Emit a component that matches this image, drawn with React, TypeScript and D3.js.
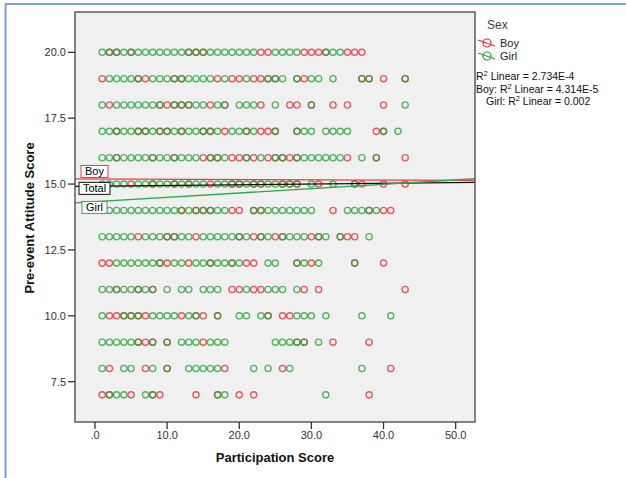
import React from 'react';
import * as d3 from 'd3';

// Pre-event attitude levels (y) and, per level, participation scores (x) of boys / girls
const attitudeLevels: number[] = [20, 19, 18, 17, 16, 15, 14, 13, 12, 11, 10, 9, 8, 7];

const boyScoresByLevel: number[][] = [
  [2, 3, 5, 13, 14, 15, 23, 24, 29, 30, 31, 32, 35, 36, 37],
  [1, 6, 7, 11, 12, 17, 19, 20, 22, 23, 24, 25, 28, 29, 37, 38, 40, 43],
  [2, 9, 10, 11, 12, 13, 16, 18, 23, 27, 28, 30, 33, 35, 40],
  [3, 6, 7, 9, 10, 12, 15, 16, 18, 21, 23, 24, 25, 28, 39, 40],
  [3, 8, 11, 15, 16, 17, 19, 20, 21, 22, 24, 25, 26, 27, 28, 35, 39, 43],
  [5, 8, 11, 13, 16, 19, 20, 22, 23, 26, 27, 28, 31, 36, 37, 40, 43],
  [12, 14, 15, 16, 19, 20, 22, 23, 33, 38, 40, 41],
  [6, 10, 11, 14, 20, 22, 23, 25, 26, 30, 31, 34, 35, 36],
  [1, 2, 9, 10, 13, 16, 19, 21, 22, 28, 30, 36, 40],
  [3, 6, 8, 19, 20, 22, 23, 29, 31, 43],
  [2, 3, 4, 5, 6, 7, 12, 14, 15, 17, 24, 26, 27],
  [6, 7, 8, 10, 15, 28, 29, 33, 38],
  [2, 7, 10, 18, 26, 41],
  [1, 2, 5, 8, 9, 14, 17, 20, 22, 38],
];

const girlScoresByLevel: number[][] = [
  [1, 2, 3, 4, 5, 6, 7, 8, 9, 10, 11, 12, 13, 14, 15, 16, 17, 18, 19, 20, 21, 22, 25, 26, 27, 28, 32, 33, 34],
  [2, 3, 4, 5, 6, 8, 9, 10, 11, 12, 13, 14, 15, 16, 18, 21, 24, 25, 26, 28, 30, 31, 33, 37, 38, 43],
  [1, 3, 4, 5, 6, 7, 8, 9, 11, 12, 13, 14, 15, 17, 18, 20, 21, 22, 25, 30, 43],
  [1, 2, 3, 4, 5, 6, 7, 8, 9, 10, 11, 12, 13, 14, 15, 16, 17, 19, 20, 21, 22, 25, 28, 29, 30, 32, 33, 34, 35, 40, 42],
  [1, 2, 3, 4, 5, 6, 7, 8, 9, 10, 11, 12, 13, 14, 16, 17, 18, 21, 23, 25, 26, 28, 29, 30, 31, 32, 33, 34, 37, 39],
  [1, 2, 3, 4, 6, 7, 8, 9, 10, 11, 12, 13, 14, 15, 17, 18, 19, 20, 21, 22, 23, 24, 25, 26, 27, 28, 30, 33, 36],
  [1, 2, 3, 4, 5, 6, 7, 8, 9, 10, 11, 12, 13, 14, 15, 16, 17, 18, 22, 23, 24, 25, 26, 27, 28, 29, 30, 35, 36, 37, 38, 39],
  [1, 2, 3, 4, 5, 7, 8, 9, 10, 11, 12, 13, 15, 16, 17, 18, 19, 20, 21, 23, 24, 26, 27, 28, 29, 31, 32, 34, 38],
  [3, 4, 5, 6, 7, 8, 9, 11, 12, 14, 15, 16, 17, 18, 19, 20, 24, 25, 28, 29, 31, 36],
  [1, 2, 3, 4, 5, 6, 7, 8, 10, 12, 13, 15, 16, 17, 21, 24, 25, 26, 28],
  [1, 4, 5, 6, 8, 9, 10, 11, 13, 14, 17, 20, 21, 23, 24, 28, 29, 30, 32, 37, 41],
  [1, 2, 3, 4, 5, 6, 8, 10, 12, 13, 14, 16, 17, 18, 25, 26, 27, 28, 29, 31],
  [1, 4, 5, 8, 10, 13, 14, 15, 16, 17, 22, 24, 27, 37],
  [2, 3, 4, 7, 8, 17, 18, 32],
];

// Linear fit lines (intercept at x = 0, slope)
const fitNames: string[] = ['Boy', 'Total', 'Girl'];
const fitIntercepts: number[] = [15.192, 14.92, 14.33];
const fitSlopes: number[] = [-0.00103, 0.0027, 0.01655];

const xTickValues: number[] = [0, 10, 20, 30, 40, 50];
const xTickLabels: string[] = ['.0', '10.0', '20.0', '30.0', '40.0', '50.0'];
const yTickValues: number[] = [7.5, 10, 12.5, 15, 17.5, 20];
const yTickLabels: string[] = ['7.5', '10.0', '12.5', '15.0', '17.5', '20.0'];

const legendNames: string[] = ['Boy', 'Girl'];
const r2Prefixes: string[] = ['', 'Boy: ', 'Girl: '];
const r2Values: string[] = ['2.734E-4', '4.314E-5', '0.002'];

const FONT = "'Liberation Sans', Arial, Helvetica, sans-serif";
const RED = '#f02a34';
const GREEN = '#22a232';
const fitColors: Record<string, string> = { Boy: '#ee3b43', Total: '#111111', Girl: '#33a846' };

export default function App() {
  const W = 626;
  const H = 478;
  const plot = { left: 75, top: 12, right: 475, bottom: 422 };
  const x = d3.scaleLinear().domain([-2.77, 52.68]).range([plot.left, plot.right]);
  const y = d3.scaleLinear().domain([5.97, 21.53]).range([plot.bottom, plot.top]);

  const boyPts: [number, number][] = [];
  const girlPts: [number, number][] = [];
  attitudeLevels.forEach((lv, i) => {
    boyScoresByLevel[i].forEach((s) => boyPts.push([s, lv]));
    girlScoresByLevel[i].forEach((s) => girlPts.push([s, lv]));
  });

  const [x0, x1] = x.domain();
  const lineGen = d3
    .line<[number, number]>()
    .x((d) => x(d[0]))
    .y((d) => y(d[1]));

  const fits = fitNames.map((name, i) => {
    const pts: [number, number][] = [
      [x0, fitIntercepts[i] + fitSlopes[i] * x0],
      [x1, fitIntercepts[i] + fitSlopes[i] * x1],
    ];
    return { name, d: lineGen(pts) as string, yLeft: y(pts[0][1]) };
  });

  // label box vertical offsets relative to the line's left end
  const labelBox: Record<string, { dy: number; x: number; w: number }> = {
    Boy: { dy: -13.5, x: 81, w: 27 },
    Total: { dy: -4, x: 79, w: 31 },
    Girl: { dy: -1.5, x: 82, w: 25 },
  };

  return (
    <svg
      width={W}
      height={H}
      style={{ position: 'absolute', left: 0, top: 0, background: '#ffffff' }}
      fontFamily={FONT}
    >
      <rect x={0} y={0} width={W} height={H} fill="#ffffff" />
      {/* outer frame */}
      <line x1={5.5} y1={4} x2={5.5} y2={H} stroke="#7b9fd4" strokeWidth={2} />
      <line x1={5} y1={4} x2={W} y2={4} stroke="#7b9fd4" strokeWidth={2} />

      <defs>
        <clipPath id="plotClip">
          <rect x={plot.left} y={plot.top} width={plot.right - plot.left} height={plot.bottom - plot.top} />
        </clipPath>
      </defs>

      <rect
        x={plot.left}
        y={plot.top}
        width={plot.right - plot.left}
        height={plot.bottom - plot.top}
        fill="#f0f0f0"
      />

      <g clipPath="url(#plotClip)">
        {boyPts.map((p, i) => (
          <circle key={'b' + i} cx={x(p[0])} cy={y(p[1])} r={3.1} fill="none" stroke={RED} strokeOpacity={0.78} strokeWidth={1.35} />
        ))}
        {girlPts.map((p, i) => (
          <circle key={'g' + i} cx={x(p[0])} cy={y(p[1])} r={3.1} fill="none" stroke={GREEN} strokeOpacity={0.77} strokeWidth={1.35} />
        ))}
        {fits.map((f) => (
          <path key={f.name} d={f.d} fill="none" stroke={fitColors[f.name]} strokeWidth={1.3} />
        ))}
      </g>

      {fits.map((f) => {
        const b = labelBox[f.name];
        const top = f.yLeft + b.dy;
        return (
          <g key={'lab' + f.name}>
            <rect x={b.x} y={top} width={b.w} height={12} fill="#ffffff" stroke={fitColors[f.name]} strokeWidth={1} />
            <text x={b.x + b.w / 2} y={top + 10} fontSize={11} textAnchor="middle" fill="#000">
              {f.name}
            </text>
          </g>
        );
      })}

      <rect
        x={plot.left}
        y={plot.top}
        width={plot.right - plot.left}
        height={plot.bottom - plot.top}
        fill="none"
        stroke="#444"
        strokeWidth={1.3}
      />

      {/* y axis */}
      {yTickValues.map((v, i) => (
        <g key={'yt' + i}>
          <line x1={plot.left - 7} x2={plot.left} y1={y(v)} y2={y(v)} stroke="#333" strokeWidth={1.3} />
          <text x={plot.left - 9} y={y(v) + 4} fontSize={11} textAnchor="end" fill="#333">
            {yTickLabels[i]}
          </text>
        </g>
      ))}
      {/* x axis */}
      {xTickValues.map((v, i) => (
        <g key={'xt' + i}>
          <line x1={x(v)} x2={x(v)} y1={plot.bottom} y2={plot.bottom + 7} stroke="#333" strokeWidth={1.3} />
          <text x={x(v)} y={plot.bottom + 16.5} fontSize={11} textAnchor="middle" fill="#333">
            {xTickLabels[i]}
          </text>
        </g>
      ))}

      <text x={275} y={462} fontSize={13} fontWeight="bold" textAnchor="middle" fill="#111">
        Participation Score
      </text>
      <text
        transform={`translate(34, ${(plot.top + plot.bottom) / 2 + 1}) rotate(-90)`}
        fontSize={13}
        fontWeight="bold"
        textAnchor="middle"
        fill="#111"
      >
        Pre-event Attitude Score
      </text>

      {/* legend */}
      <text x={487} y={29} fontSize={12} fill="#444">
        Sex
      </text>
      {legendNames.map((n, i) => {
        const cy = 43 + i * 13;
        const col = i === 0 ? RED : GREEN;
        return (
          <g key={'lg' + n}>
            <line x1={478} y1={cy - 3} x2={495} y2={cy + 3} stroke={col} strokeWidth={1.1} />
            <circle cx={487} cy={cy} r={4} fill="none" stroke={col} strokeWidth={1.2} />
            <text x={500} y={cy + 4} fontSize={11} fill="#222">
              {n}
            </text>
          </g>
        );
      })}
      {r2Values.map((v, i) => {
        const xs = [476, 476, 486][i];
        const ys = [80, 93, 105][i];
        return (
          <text key={'r2' + i} x={xs} y={ys} fontSize={10.5} fill="#111">
            {r2Prefixes[i]}R
            <tspan fontSize={7.5} dy={-4}>2</tspan>
            <tspan dy={4}>{' Linear = ' + v}</tspan>
          </text>
        );
      })}
    </svg>
  );
}
